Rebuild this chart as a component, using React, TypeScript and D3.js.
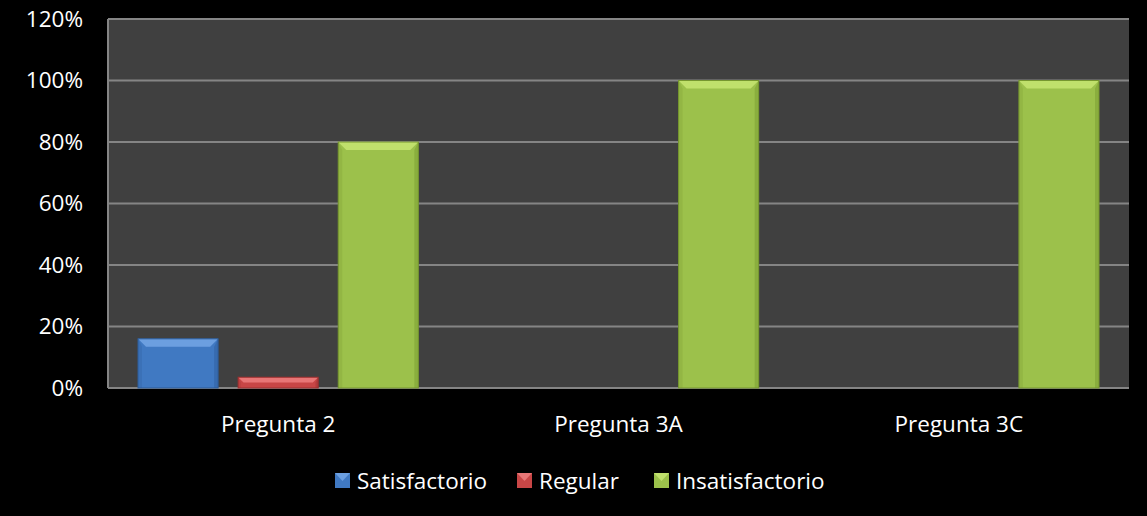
import { useEffect, useRef } from "react";
import * as d3 from "d3";

const categories = ["Pregunta 2", "Pregunta 3A", "Pregunta 3C"];
const seriesNames = ["Satisfactorio", "Regular", "Insatisfactorio"];
const satisfactorio = [0.16, 0, 0];
const regular = [0.035, 0, 0];
const insatisfactorio = [0.8, 1, 1];
const yTicks = [0, 0.2, 0.4, 0.6, 0.8, 1, 1.2];

const colors = [
  { base: "#4079c2", light: "#6c9fe0", dark: "#2d5c99" },
  { base: "#c84646", light: "#e87676", dark: "#9a3030" },
  { base: "#9cc14b", light: "#c0e06c", dark: "#76962f" },
];

const W = 1147;
const H = 516;
const FONT = "'Open Sans', sans-serif";
const FS = 22.5;

const App = () => {
  const ref = useRef<SVGSVGElement>(null!);

  useEffect(() => {
    const svg = d3.select(ref.current);
    svg.selectAll("*").remove();

    const left = 108;
    const right = 1129;
    const top = 19;
    const bottom = 388;

    svg.append("rect").attr("width", W).attr("height", H).attr("fill", "#000");
    svg
      .append("rect")
      .attr("x", left)
      .attr("y", top)
      .attr("width", right - left)
      .attr("height", bottom - top)
      .attr("fill", "#404040");

    const x = d3.scaleBand<string>().domain(categories).range([left, right]).padding(0);
    const y = d3.scaleLinear().domain([0, 1.2]).range([bottom, top]);
    const inner = d3
      .scaleBand<string>()
      .domain(seriesNames)
      .range([30, x.bandwidth() - 30])
      .paddingInner(0.2);

    // gridlines
    svg
      .append("g")
      .selectAll("line")
      .data(yTicks)
      .enter()
      .append("line")
      .attr("x1", left)
      .attr("x2", right)
      .attr("y1", (d) => y(d))
      .attr("y2", (d) => y(d))
      .attr("stroke", "#858585")
      .attr("stroke-width", 2);
    svg
      .append("line")
      .attr("x1", left)
      .attr("x2", left)
      .attr("y1", top)
      .attr("y2", bottom)
      .attr("stroke", "#858585")
      .attr("stroke-width", 2);

    svg
      .append("g")
      .selectAll("text")
      .data(yTicks)
      .enter()
      .append("text")
      .attr("x", 83)
      .attr("y", (d) => y(d))
      .attr("dy", "0.35em")
      .attr("text-anchor", "end")
      .attr("fill", "#fff")
      .attr("font-family", FONT)
      .attr("font-size", FS)
      .text((d) => d3.format(".0%")(d));

    const series = [satisfactorio, regular, insatisfactorio];
    const bars = svg.append("g");
    categories.forEach((cat, ci) => {
      series.forEach((vals, si) => {
        const v = vals[ci];
        if (!v) return;
        const x0 = x(cat)! + inner(seriesNames[si])!;
        const w = inner.bandwidth();
        const y0 = y(v);
        const h = bottom - y0;
        const b = Math.min(8, h / 2);
        const c = colors[si];
        const g = bars.append("g");
        g.append("rect").attr("x", x0).attr("y", y0).attr("width", w).attr("height", h).attr("fill", c.base);
        // top bevel
        g.append("polygon")
          .attr("points", `${x0},${y0} ${x0 + w},${y0} ${x0 + w - b},${y0 + b} ${x0 + b},${y0 + b}`)
          .attr("fill", c.light);
        // left bevel
        g.append("polygon")
          .attr("points", `${x0},${y0} ${x0 + b / 2},${y0 + b} ${x0 + b / 2},${bottom} ${x0},${bottom}`)
          .attr("fill", c.dark)
          .attr("opacity", 0.25);
        // right bevel
        g.append("polygon")
          .attr("points", `${x0 + w},${y0} ${x0 + w - b / 2},${y0 + b} ${x0 + w - b / 2},${bottom} ${x0 + w},${bottom}`)
          .attr("fill", c.dark)
          .attr("opacity", 0.45);
        g.append("rect")
          .attr("x", x0)
          .attr("y", y0)
          .attr("width", w)
          .attr("height", h)
          .attr("fill", "none")
          .attr("stroke", c.dark)
          .attr("stroke-width", 1);
      });
    });

    svg
      .append("g")
      .selectAll("text")
      .data(categories)
      .enter()
      .append("text")
      .attr("x", (d) => x(d)! + x.bandwidth() / 2)
      .attr("y", 424)
      .attr("dy", "0.35em")
      .attr("text-anchor", "middle")
      .attr("fill", "#fff")
      .attr("font-family", FONT)
      .attr("font-size", FS)
      .text((d) => d);

    // legend
    const legendX = [335, 517, 654];
    const legend = svg.append("g");
    seriesNames.forEach((name, i) => {
      const c = colors[i];
      const lx = legendX[i];
      legend.append("rect").attr("x", lx).attr("y", 473).attr("width", 15).attr("height", 15).attr("fill", c.base);
      legend
        .append("polygon")
        .attr("points", `${lx},473 ${lx + 15},473 ${lx + 7.5},481`)
        .attr("fill", c.light);
      legend
        .append("text")
        .attr("x", lx + 22)
        .attr("y", 481)
        .attr("dy", "0.35em")
        .attr("fill", "#fff")
        .attr("font-family", FONT)
        .attr("font-size", FS)
        .text(name);
    });
  }, []);

  return <svg ref={ref} width={W} height={H} style={{ display: "block", position: "absolute", left: 0, top: 0 }} />;
};

export default App;
